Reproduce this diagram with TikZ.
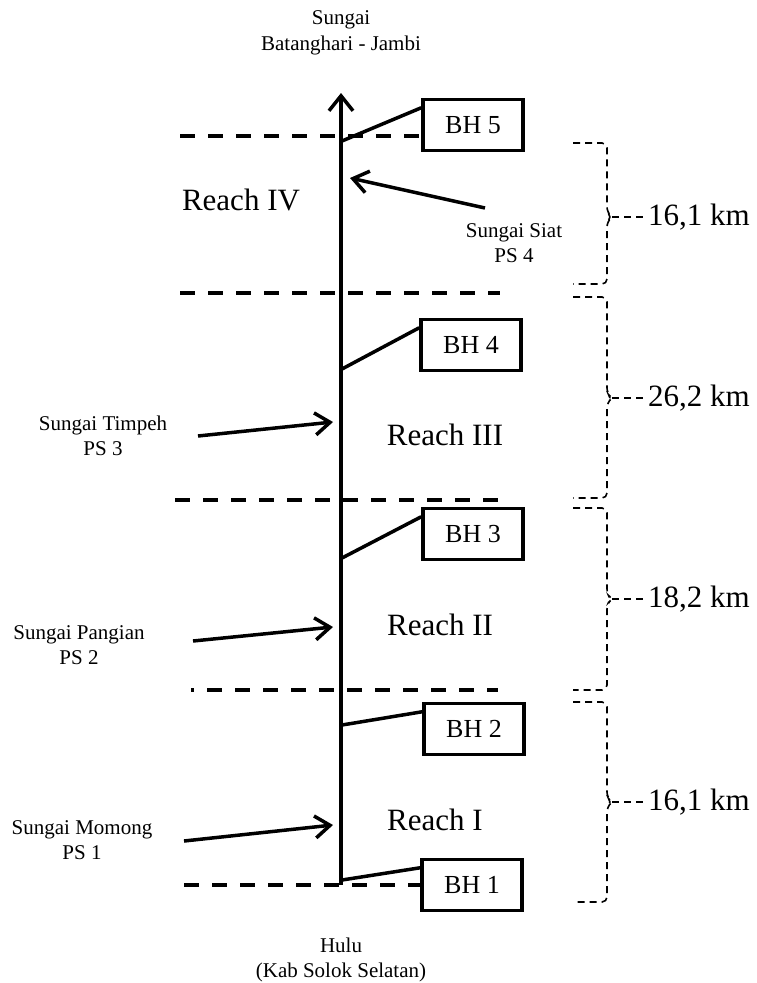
\documentclass[tikz,border=0pt]{standalone}
\usepackage{fontspec}
\setmainfont{Liberation Serif}
\usepackage{tikz}
\usetikzlibrary{arrows.meta, calc}

\begin{document}
\begin{tikzpicture}[x=1pt, y=-1pt,
  bhbox/.style={draw, line width=3.5pt, minimum width=100pt, minimum height=51pt, inner sep=0pt, font=\fontsize{26}{30}\selectfont},
  river/.style={line width=3.5pt, -{Straight Barb[length=15pt, width=24pt]}},
  inflow/.style={line width=3.5pt, -{Straight Barb[length=15pt, width=22pt]}},
  link/.style={line width=3.5pt},
  border/.style={line width=3.5pt, dash pattern=on 15pt off 13pt},
  bracket/.style={line width=1.6pt, dash pattern=on 7pt off 5pt, rounded corners=5pt},
  note/.style={align=center, font=\fontsize{21}{25.5}\selectfont},
  big/.style={font=\fontsize{31}{36}\selectfont},
]
  \useasboundingbox (0,0) rectangle (756,983);

  % main river
  \node[note] (mouth) at (341,33) {Sungai\\Batanghari - Jambi};
  \node[note] (hulu) at (341,960) {Hulu\\(Kab Solok Selatan)};
  \coordinate (base) at (341,885);
  \coordinate (top) at (341,93);
  \draw[river] (base) -- (top);

  % reach borders
  \draw[border] (180,136) -- (420,136);
  \draw[border] (180,293) -- (500,293);
  \draw[border] (175,500) -- (500,500);
  \draw[border, dash phase=12pt] (191,690) -- (498,690);
  \draw[border] (184,885) -- (420,885);

  % sampling points
  \node[bhbox] (bh5) at (473,125) {BH 5};
  \node[bhbox] (bh4) at (471,345) {BH 4};
  \node[bhbox] (bh3) at (473,534) {BH 3};
  \node[bhbox] (bh2) at (474,729) {BH 2};
  \node[bhbox] (bh1) at (472,885) {BH 1};
  \foreach \n/\y in {5/141, 4/369, 3/558, 2/725, 1/880} {
    \coordinate (j\n) at (342,\y);
    \draw[link] (j\n) -- ([yshift=-10pt]bh\n.north west);
  }

  % reaches
  \node[big] (reach4) at (241,200) {Reach IV};
  \node[big] (reach3) at (445,435) {Reach III};
  \node[big] (reach2) at (440,625) {Reach II};
  \node[big] (reach1) at (435,820) {Reach I};

  % tributaries
  \node[note] (timpeh) at (103,436) {Sungai Timpeh\\PS 3};
  \node[note] (pangian) at (79,645) {Sungai Pangian\\PS 2};
  \node[note] (momong) at (82,840) {Sungai Momong\\PS 1};
  \node[note] (siat) at (514,243) {Sungai Siat\\PS 4};
  \coordinate (timpehtail) at (198,436);
  \coordinate (timpehin) at (333,422);
  \coordinate (pangiantail) at (193,641);
  \coordinate (pangianin) at (333,627);
  \coordinate (momongtail) at (184,841);
  \coordinate (momongin) at (333,825);
  \coordinate (siattail) at (485,208);
  \coordinate (siatin) at (350,178);
  \draw[inflow] (timpehtail) -- (timpehin);
  \draw[inflow] (pangiantail) -- (pangianin);
  \draw[inflow] (momongtail) -- (momongin);
  \draw[inflow] (siattail) -- (siatin);

  % reach lengths
  \foreach \t/\m/\b/\len in {143/217/284/{16,1 km}, 297/398/498/{26,2 km}, 508/599/690/{18,2 km}, 702/802/902/{16,1 km}} {
    \draw[bracket] (573,\t) -- (607,\t) -- (607,\m-5) -- (612,\m) -- (607,\m+5) -- (607,\b) -- (573,\b);
    \coordinate (tip\m) at (612,\m);
    \node[big, anchor=west, inner sep=5pt] (km\m) at (643,\m) {\len};
    \draw[bracket] (tip\m) -- (km\m.west);
  }
\end{tikzpicture}
\end{document}
